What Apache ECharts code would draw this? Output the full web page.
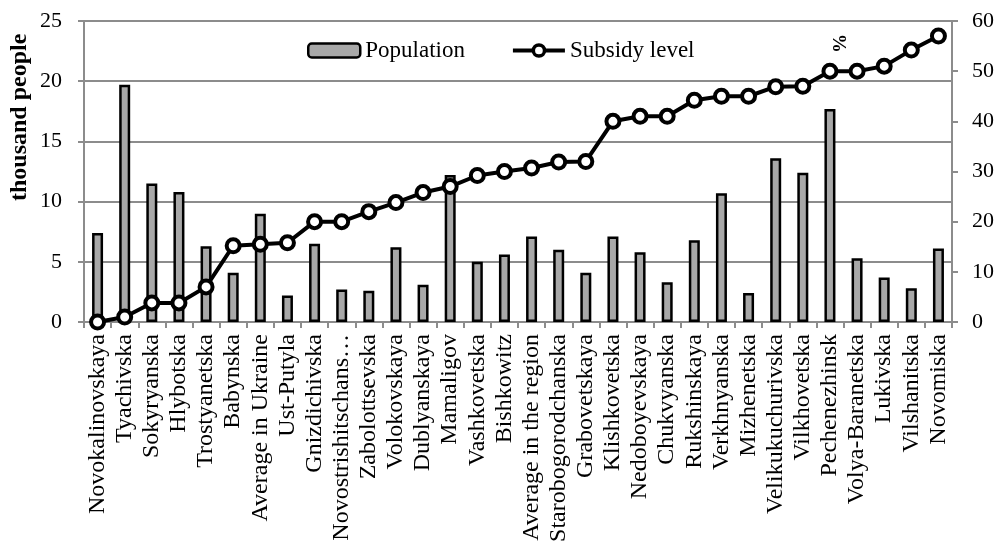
<!DOCTYPE html>
<html>
<head>
<meta charset="utf-8">
<script src="https://cdn.jsdelivr.net/npm/echarts@6/dist/echarts.min.js"></script>
<style>
  html, body { margin: 0; padding: 0; background: #fff; }
  #chart { width: 998px; height: 551px; }
</style>
</head>
<body>
<div id="chart"></div>
<script>
const categories = [
  'Novokalinovskaya', 'Tyachivska', 'Sokyryanska', 'Hlybotska', 'Trostyanetska',
  'Babynska', 'Average in Ukraine', 'Ust-Putyla', 'Gnizdichivska', 'Novostrishitschans…',
  'Zabolottsevska', 'Volokovskaya', 'Dublyanskaya', 'Mamaligov', 'Vashkovetska',
  'Bishkowitz', 'Average in the region', 'Starobogorodchanska', 'Grabovetskaya', 'Klishkovetska',
  'Nedoboyevskaya', 'Chukvyanska', 'Rukshinskaya', 'Verkhnyanska', 'Mizhenetska',
  'Velikukuchurivska', 'Vilkhovetska', 'Pechenezhinsk', 'Volya-Baranetska', 'Lukivska',
  'Vilshanitska', 'Novomiska'
]
// thousand people
const population = [
  7.4, 19.7, 11.5, 10.8, 6.3, 4.1, 9.0, 2.2, 6.5, 2.7,
  2.6, 6.2, 3.1, 12.2, 5.0, 5.6, 7.1, 6.0, 4.1, 7.1,
  5.8, 3.3, 6.8, 10.7, 2.4, 13.6, 12.4, 17.7, 5.3, 3.7,
  2.8, 6.1
]
// %
const subsidy = [
  0, 1, 3.8, 3.8, 7, 15.2, 15.5, 15.8, 20, 20,
  22, 23.8, 25.8, 27, 29.2, 30, 30.7, 31.9, 32, 40,
  41, 41, 44.2, 45, 45, 46.9, 47, 50, 50, 51,
  54.2, 57
]
const leftTicks = { min: 0, max: 25, interval: 5 }
const rightTicks = { min: 0, max: 60, interval: 10 }

const font = 'Liberation Serif'
const gridColor = '#8c8c8c'
const chart = echarts.init(document.getElementById('chart'))
const option = {
  animation: false,
  textStyle: { fontFamily: font },
  grid: { left: 84, right: 46, top: 21, bottom: 229, containLabel: false },
  legend: {
    left: 302,
    top: 34,
    itemWidth: 52,
    itemHeight: 14,
    itemGap: 46,
    textStyle: { fontFamily: font, fontSize: 23, color: '#000' },
    data: [
      { name: 'Population', itemStyle: { borderWidth: 2.5 } },
      { name: 'Subsidy level', lineStyle: { width: 4 }, itemStyle: { borderWidth: 3.5 } },
    ],
  },
  graphic: [
    {
      // left axis name
      type: 'text',
      x: 8, y: 201,
      rotation: Math.PI / 2,
      style: { text: 'thousand people', font: 'bold 24px "Liberation Serif"', fill: '#000' },
    },
    {
      // right axis name
      type: 'text',
      x: 832, y: 53,
      rotation: Math.PI / 2,
      style: { text: '%', font: 'bold 19px "Liberation Serif"', fill: '#000' },
    },
  ],
  xAxis: {
    type: 'category',
    data: categories,
    axisLine: { lineStyle: { color: gridColor, width: 2 } },
    axisTick: { show: true, length: 6, lineStyle: { color: gridColor, width: 2 } },
    axisLabel: { rotate: 90, interval: 0, fontSize: 24, color: '#000', margin: 12, fontFamily: font },
  },
  yAxis: [
    {
      type: 'value',
      min: leftTicks.min, max: leftTicks.max, interval: leftTicks.interval,
      axisLine: { show: true, lineStyle: { color: gridColor, width: 2 } },
      axisTick: { show: true, length: 6, lineStyle: { color: gridColor, width: 2 } },
      axisLabel: { fontSize: 22, color: '#000', margin: 22, fontFamily: font },
      splitLine: { show: true, lineStyle: { color: gridColor, width: 2 } },
    },
    {
      type: 'value',
      min: rightTicks.min, max: rightTicks.max, interval: rightTicks.interval,
      position: 'right',
      axisLine: { show: true, lineStyle: { color: gridColor, width: 2 } },
      axisTick: { show: true, length: 6, lineStyle: { color: gridColor, width: 2 } },
      axisLabel: { fontSize: 22, color: '#000', margin: 20, fontFamily: font },
      splitLine: { show: false },
    },
  ],
  series: [
    {
      name: 'Population',
      type: 'bar',
      data: population,
      barWidth: 11,
      itemStyle: { color: '#a8a8a8', borderColor: '#000', borderWidth: 2.5 },
    },
    {
      name: 'Subsidy level',
      type: 'line',
      yAxisIndex: 1,
      data: subsidy,
      symbol: 'circle',
      symbolSize: 13,
      lineStyle: { color: '#000', width: 4 },
      itemStyle: { color: '#fff', borderColor: '#000', borderWidth: 4 },
    },
  ],
}
chart.setOption(option)
</script>
</body>
</html>
